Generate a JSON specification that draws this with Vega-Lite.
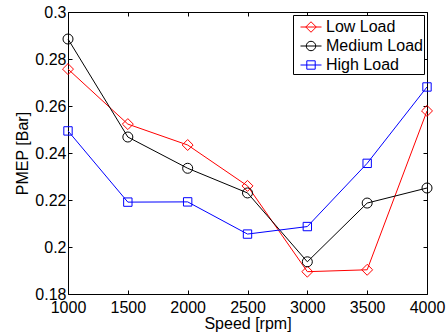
{
  "$schema": "https://vega.github.io/schema/vega-lite/v6.json",
  "width": 359,
  "height": 282,
  "autosize": {"type": "none"},
  "padding": {"left": 68, "top": 12, "right": 19, "bottom": 39},
  "data": {
    "values": [
      {"series": "Low Load", "speed": 1000, "pmep": 0.2757},
      {"series": "Low Load", "speed": 1500, "pmep": 0.2523},
      {"series": "Low Load", "speed": 2000, "pmep": 0.2434},
      {"series": "Low Load", "speed": 2500, "pmep": 0.2260},
      {"series": "Low Load", "speed": 3000, "pmep": 0.1895},
      {"series": "Low Load", "speed": 3500, "pmep": 0.1903},
      {"series": "Low Load", "speed": 4000, "pmep": 0.2579},
      {"series": "Medium Load", "speed": 1000, "pmep": 0.2885},
      {"series": "Medium Load", "speed": 1500, "pmep": 0.2468},
      {"series": "Medium Load", "speed": 2000, "pmep": 0.2335},
      {"series": "Medium Load", "speed": 2500, "pmep": 0.2230},
      {"series": "Medium Load", "speed": 3000, "pmep": 0.1937},
      {"series": "Medium Load", "speed": 3500, "pmep": 0.2187},
      {"series": "Medium Load", "speed": 4000, "pmep": 0.2251},
      {"series": "High Load", "speed": 1000, "pmep": 0.2494},
      {"series": "High Load", "speed": 1500, "pmep": 0.2191},
      {"series": "High Load", "speed": 2000, "pmep": 0.2192},
      {"series": "High Load", "speed": 2500, "pmep": 0.2055},
      {"series": "High Load", "speed": 3000, "pmep": 0.2087},
      {"series": "High Load", "speed": 3500, "pmep": 0.2356},
      {"series": "High Load", "speed": 4000, "pmep": 0.2681}
    ]
  },
  "config": {
    "view": {"stroke": null},
    "axis": {
      "labelFont": "Liberation Sans",
      "labelFontSize": 16,
      "titleFont": "Liberation Sans",
      "titleFontSize": 16,
      "titleFontWeight": "normal",
      "labelColor": "black",
      "titleColor": "black",
      "domainColor": "black",
      "tickColor": "black",
      "domainWidth": 1,
      "tickWidth": 1,
      "grid": false,
      "labelFlush": false,
      "labelOverlap": false,
      "labelBound": false
    },
    "legend": {
      "labelFont": "Liberation Sans",
      "labelFontSize": 16,
      "labelColor": "black"
    }
  },
  "layer": [
    {
      "mark": {"type": "line", "strokeWidth": 1},
      "encoding": {
        "x": {"field": "speed", "type": "quantitative", "scale": {"domain": [1000, 4000], "nice": false, "zero": false},
          "axis": {"orient": "bottom", "values": [1000, 1500, 2000, 2500, 3000, 3500, 4000], "format": "d", "title": "Speed [rpm]", "tickSize": -4, "labelPadding": 9, "titlePadding": 0}},
        "y": {"field": "pmep", "type": "quantitative", "scale": {"domain": [0.18, 0.3], "nice": false, "zero": false},
          "axis": {"orient": "left", "values": [0.18, 0.2, 0.22, 0.24, 0.26, 0.28, 0.3], "format": ".2~f", "title": "PMEP [Bar]", "tickSize": -4, "labelPadding": 6, "titlePadding": 4}},
        "color": {"field": "series", "type": "nominal", "scale": {"domain": ["Low Load", "Medium Load", "High Load"], "range": ["#ff0000", "#000000", "#0000ff"]}, "legend": null},
        "detail": {"field": "series"}
      }
    },
    {
      "transform": [{"filter": "datum.series === 'Low Load'"}],
      "mark": {"type": "point", "shape": "diamond", "filled": false, "size": 120, "strokeWidth": 1, "opacity": 1},
      "encoding": {
        "x": {"field": "speed", "type": "quantitative", "scale": {"domain": [1000, 4000], "nice": false, "zero": false}, "axis": null},
        "y": {"field": "pmep", "type": "quantitative", "scale": {"domain": [0.18, 0.3], "nice": false, "zero": false}, "axis": null},
        "color": {"field": "series", "type": "nominal", "scale": {"domain": ["Low Load", "Medium Load", "High Load"], "range": ["#ff0000", "#000000", "#0000ff"]}, "legend": null}
      }
    },
    {
      "transform": [{"filter": "datum.series === 'Medium Load'"}],
      "mark": {"type": "point", "shape": "circle", "filled": false, "size": 100, "strokeWidth": 1, "opacity": 1},
      "encoding": {
        "x": {"field": "speed", "type": "quantitative", "scale": {"domain": [1000, 4000], "nice": false, "zero": false}, "axis": null},
        "y": {"field": "pmep", "type": "quantitative", "scale": {"domain": [0.18, 0.3], "nice": false, "zero": false}, "axis": null},
        "color": {"field": "series", "type": "nominal", "scale": {"domain": ["Low Load", "Medium Load", "High Load"], "range": ["#ff0000", "#000000", "#0000ff"]}, "legend": null}
      }
    },
    {
      "transform": [{"filter": "datum.series === 'High Load'"}],
      "mark": {"type": "point", "shape": "square", "filled": false, "size": 70, "strokeWidth": 1, "opacity": 1},
      "encoding": {
        "x": {"field": "speed", "type": "quantitative", "scale": {"domain": [1000, 4000], "nice": false, "zero": false}, "axis": null},
        "y": {"field": "pmep", "type": "quantitative", "scale": {"domain": [0.18, 0.3], "nice": false, "zero": false}, "axis": null},
        "color": {"field": "series", "type": "nominal", "scale": {"domain": ["Low Load", "Medium Load", "High Load"], "range": ["#ff0000", "#000000", "#0000ff"]}, "legend": null}
      }
    },
    {
      "transform": [{"filter": "false"}],
      "mark": {"type": "point", "filled": false, "strokeWidth": 1, "opacity": 1},
      "encoding": {
        "x": {"field": "speed", "type": "quantitative", "scale": {"domain": [1000, 4000], "nice": false, "zero": false},
          "axis": {"orient": "top", "values": [1000, 1500, 2000, 2500, 3000, 3500, 4000], "labels": false, "title": null, "tickSize": -4}},
        "y": {"field": "pmep", "type": "quantitative", "scale": {"domain": [0.18, 0.3], "nice": false, "zero": false},
          "axis": {"orient": "right", "values": [0.18, 0.2, 0.22, 0.24, 0.26, 0.28, 0.3], "labels": false, "title": null, "tickSize": -4}},
        "color": {"field": "series", "type": "nominal", "scale": {"domain": ["Low Load", "Medium Load", "High Load"], "range": ["#ff0000", "#000000", "#0000ff"]},
          "legend": {"title": null, "orient": "top-right", "offset": 3, "padding": 1, "symbolOffset": 6, "strokeColor": "black", "fillColor": "white", "symbolSize": 441, "symbolStrokeWidth": 1, "rowPadding": -2, "labelOffset": 4, "cornerRadius": 0}},
        "shape": {"field": "series", "type": "nominal", "scale": {"domain": ["Low Load", "Medium Load", "High Load"], "range": [
            "M-1,0L1,0M0,-0.5L0.5,0L0,0.5L-0.5,0Z",
            "M-1,0L1,0M0.45,0A0.45,0.45,0,1,1,-0.45,0A0.45,0.45,0,1,1,0.45,0Z",
            "M-1,0L1,0M-0.4,-0.4L0.4,-0.4L0.4,0.4L-0.4,0.4Z"
          ]},
          "legend": {"title": null, "orient": "top-right", "offset": 3, "padding": 1, "symbolOffset": 6, "strokeColor": "black", "fillColor": "white", "symbolSize": 441, "symbolStrokeWidth": 1, "rowPadding": -2, "labelOffset": 4, "cornerRadius": 0}}
      }
    }
  ],
  "resolve": {"axis": {"x": "independent", "y": "independent"}, "legend": {"color": "independent", "shape": "independent"}}
}
